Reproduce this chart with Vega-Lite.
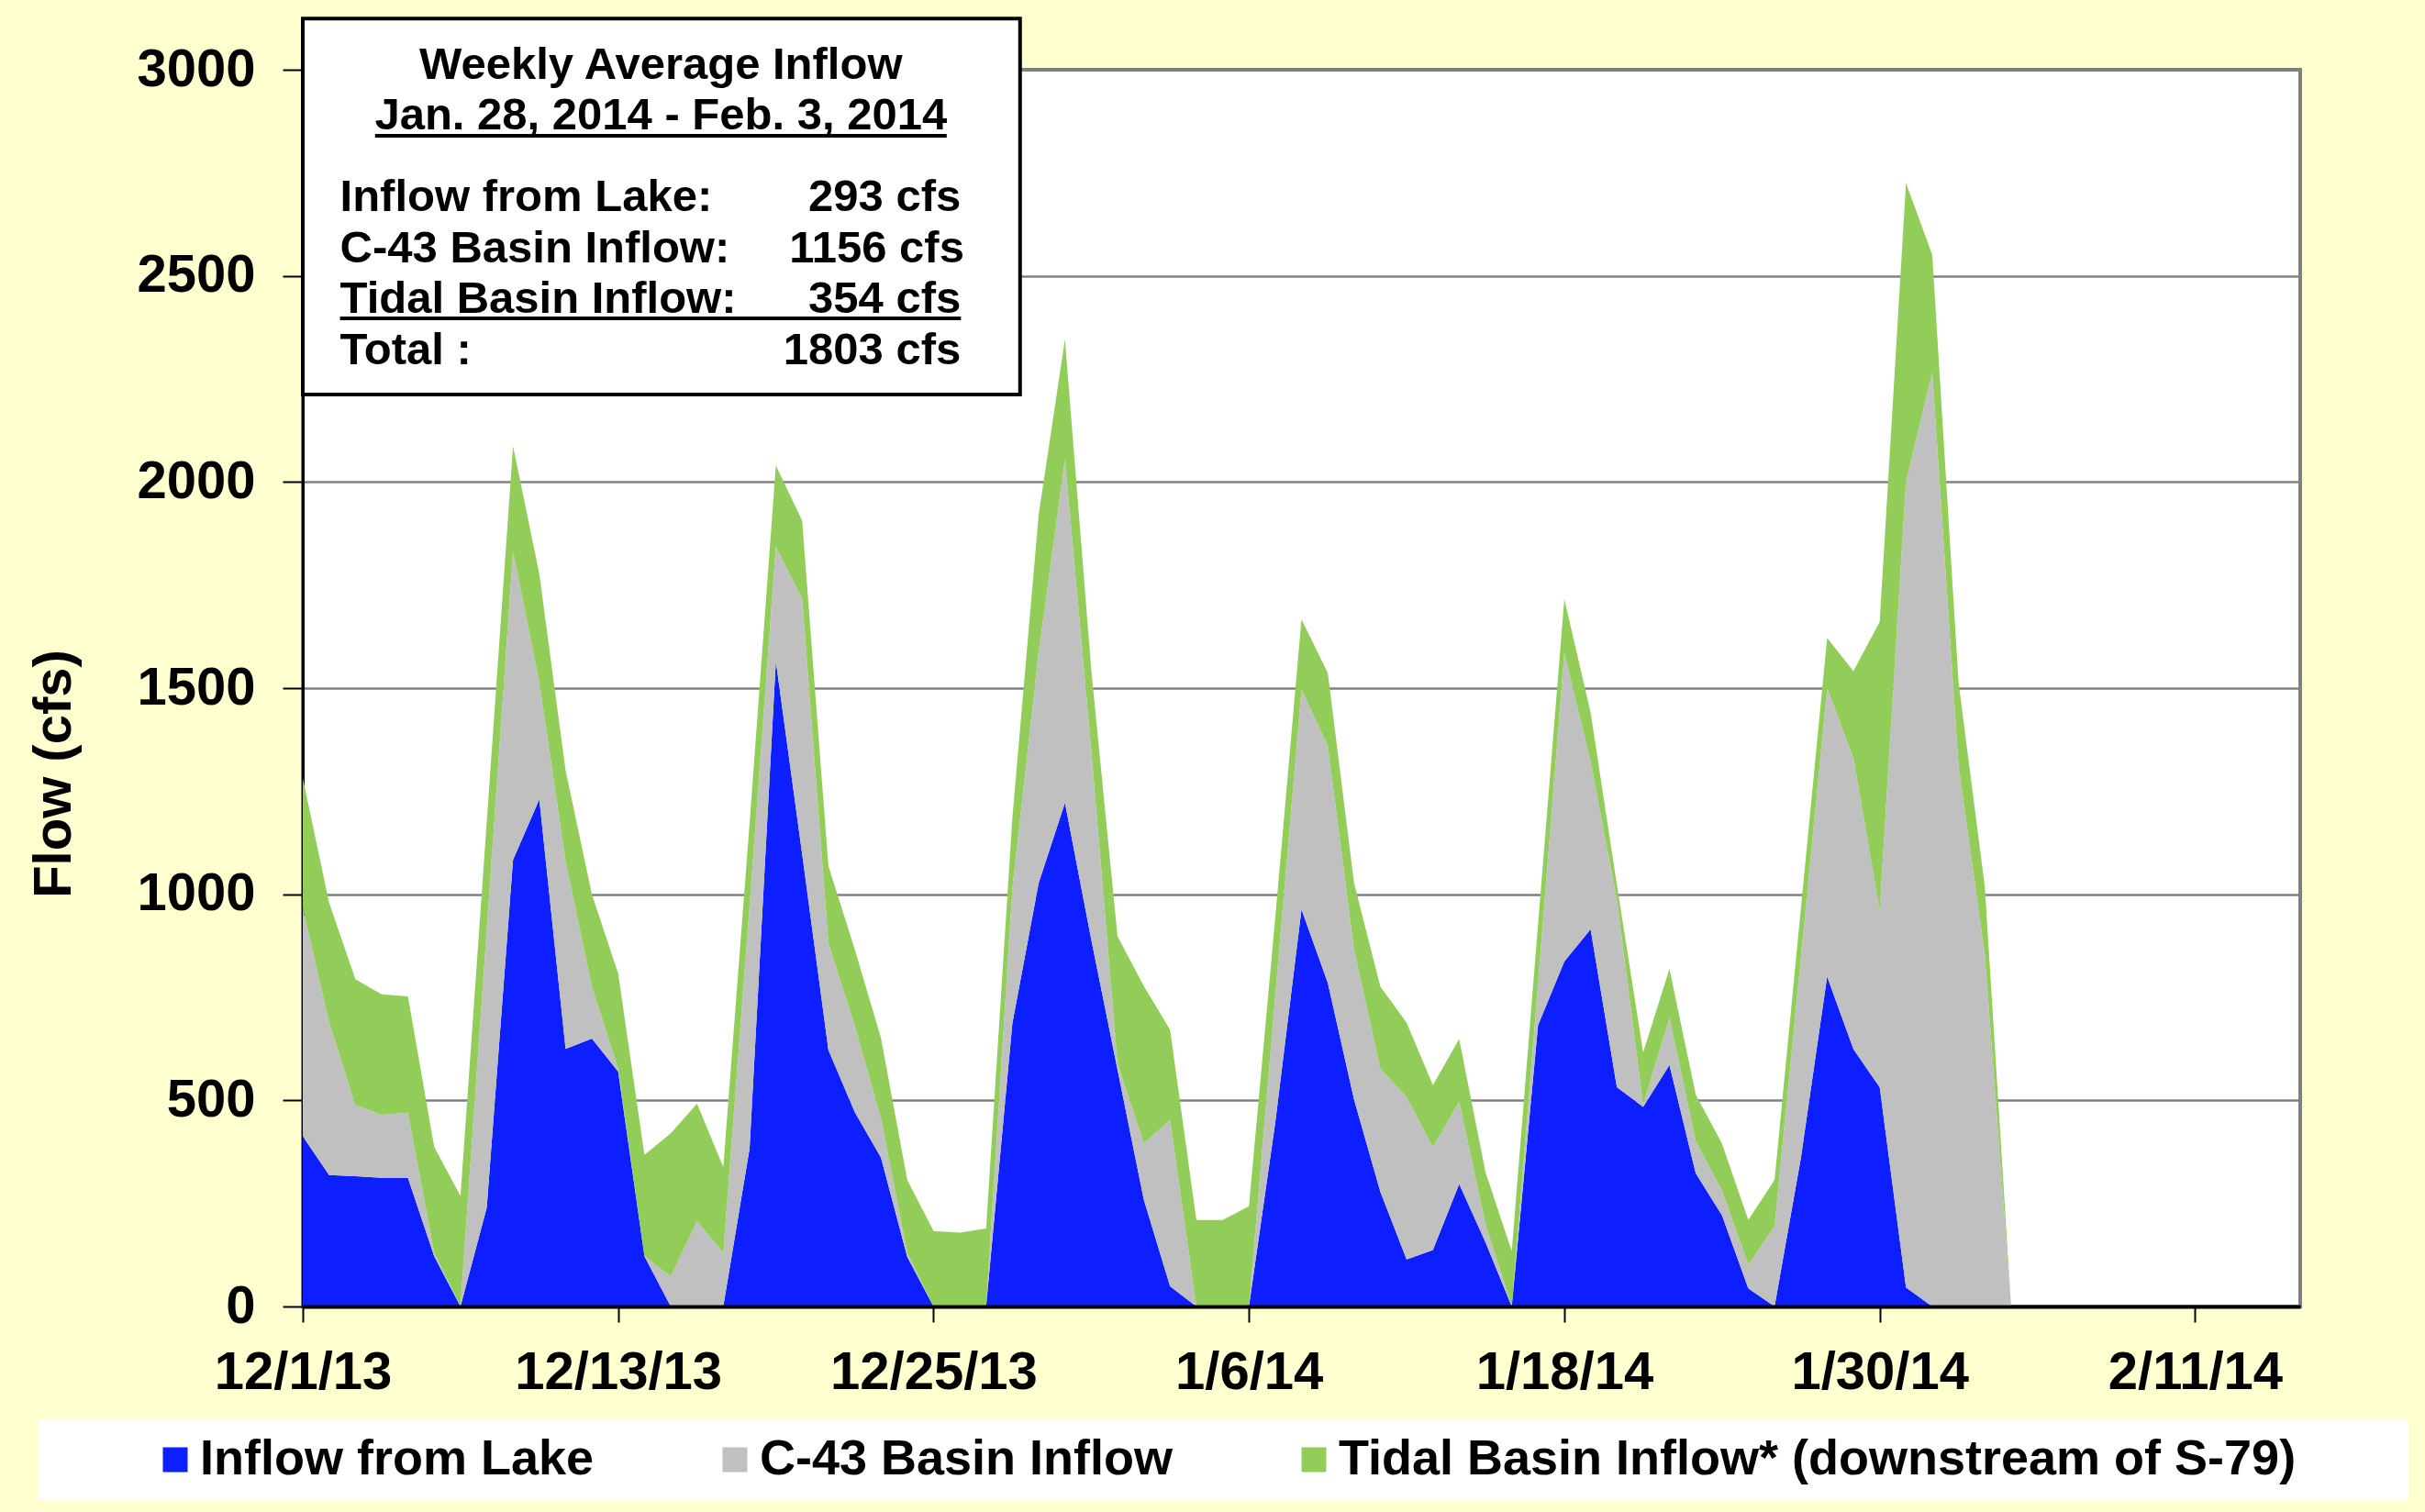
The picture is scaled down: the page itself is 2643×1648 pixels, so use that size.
{
  "$schema": "https://vega.github.io/schema/vega-lite/v6.json",
  "width": 2177,
  "height": 1348,
  "autosize": {"type": "none"},
  "padding": {"left": 330, "top": 76, "right": 136, "bottom": 224},
  "background": "#FFFFCF",
  "config": {
    "view": {"fill": "white", "stroke": "#808080", "strokeWidth": 4},
    "axis": {
      "labelFont": "Liberation Sans", "labelFontWeight": "bold", "labelFontSize": 58, "labelColor": "black", "labelLimit": 0,
      "titleFont": "Liberation Sans", "titleFontWeight": "bold", "titleFontSize": 58, "titleColor": "black",
      "domainColor": "black", "tickColor": "black", "tickWidth": 2
    },
    "text": {"font": "Liberation Sans", "fontWeight": "bold", "fontSize": 49, "baseline": "middle", "color": "black"}
  },
  "layer": [
    {
      "data": {"values": [
        {"date": "2013-12-01", "s1": 413, "s2": 553, "s3": 316},
        {"date": "2013-12-02", "s1": 319, "s2": 371, "s3": 290},
        {"date": "2013-12-03", "s1": 316, "s2": 172, "s3": 306},
        {"date": "2013-12-04", "s1": 312, "s2": 153, "s3": 292},
        {"date": "2013-12-05", "s1": 312, "s2": 158, "s3": 282},
        {"date": "2013-12-06", "s1": 122, "s2": 8, "s3": 257},
        {"date": "2013-12-07", "s1": 0, "s2": 0, "s3": 268},
        {"date": "2013-12-08", "s1": 240, "s2": 675, "s3": 260},
        {"date": "2013-12-09", "s1": 1083, "s2": 748, "s3": 256},
        {"date": "2013-12-10", "s1": 1230, "s2": 285, "s3": 262},
        {"date": "2013-12-11", "s1": 625, "s2": 455, "s3": 220},
        {"date": "2013-12-12", "s1": 650, "s2": 125, "s3": 225},
        {"date": "2013-12-13", "s1": 570, "s2": 7, "s3": 231},
        {"date": "2013-12-14", "s1": 122, "s2": 0, "s3": 246},
        {"date": "2013-12-15", "s1": 0, "s2": 73, "s3": 347},
        {"date": "2013-12-16", "s1": 0, "s2": 207, "s3": 285},
        {"date": "2013-12-17", "s1": 0, "s2": 130, "s3": 208},
        {"date": "2013-12-18", "s1": 383, "s2": 589, "s3": 200},
        {"date": "2013-12-19", "s1": 1565, "s2": 278, "s3": 197},
        {"date": "2013-12-20", "s1": 1098, "s2": 619, "s3": 189},
        {"date": "2013-12-21", "s1": 622, "s2": 260, "s3": 186},
        {"date": "2013-12-22", "s1": 472, "s2": 209, "s3": 186},
        {"date": "2013-12-23", "s1": 361, "s2": 96, "s3": 194},
        {"date": "2013-12-24", "s1": 120, "s2": 10, "s3": 177},
        {"date": "2013-12-25", "s1": 0, "s2": 0, "s3": 183},
        {"date": "2013-12-26", "s1": 0, "s2": 0, "s3": 179},
        {"date": "2013-12-27", "s1": 0, "s2": 0, "s3": 189},
        {"date": "2013-12-28", "s1": 687, "s2": 327, "s3": 173},
        {"date": "2013-12-29", "s1": 1027, "s2": 560, "s3": 334},
        {"date": "2013-12-30", "s1": 1222, "s2": 833, "s3": 291},
        {"date": "2013-12-31", "s1": 890, "s2": 460, "s3": 195},
        {"date": "2014-01-01", "s1": 574, "s2": 16, "s3": 308},
        {"date": "2014-01-02", "s1": 259, "s2": 137, "s3": 381},
        {"date": "2014-01-03", "s1": 49, "s2": 404, "s3": 218},
        {"date": "2014-01-04", "s1": 0, "s2": 0, "s3": 210},
        {"date": "2014-01-05", "s1": 0, "s2": 0, "s3": 210},
        {"date": "2014-01-06", "s1": 0, "s2": 0, "s3": 243},
        {"date": "2014-01-07", "s1": 445, "s2": 307, "s3": 190},
        {"date": "2014-01-08", "s1": 963, "s2": 534, "s3": 170},
        {"date": "2014-01-09", "s1": 785, "s2": 574, "s3": 178},
        {"date": "2014-01-10", "s1": 502, "s2": 364, "s3": 161},
        {"date": "2014-01-11", "s1": 278, "s2": 299, "s3": 199},
        {"date": "2014-01-12", "s1": 114, "s2": 394, "s3": 180},
        {"date": "2014-01-13", "s1": 137, "s2": 249, "s3": 151},
        {"date": "2014-01-14", "s1": 297, "s2": 200, "s3": 152},
        {"date": "2014-01-15", "s1": 156, "s2": 44, "s3": 126},
        {"date": "2014-01-16", "s1": 0, "s2": 0, "s3": 134},
        {"date": "2014-01-17", "s1": 682, "s2": 101, "s3": 144},
        {"date": "2014-01-18", "s1": 837, "s2": 748, "s3": 131},
        {"date": "2014-01-19", "s1": 915, "s2": 407, "s3": 119},
        {"date": "2014-01-20", "s1": 532, "s2": 455, "s3": 36},
        {"date": "2014-01-21", "s1": 484, "s2": 6, "s3": 126},
        {"date": "2014-01-22", "s1": 586, "s2": 114, "s3": 119},
        {"date": "2014-01-23", "s1": 323, "s2": 78, "s3": 113},
        {"date": "2014-01-24", "s1": 221, "s2": 60, "s3": 114},
        {"date": "2014-01-25", "s1": 44, "s2": 57, "s3": 109},
        {"date": "2014-01-26", "s1": 0, "s2": 195, "s3": 112},
        {"date": "2014-01-27", "s1": 360, "s2": 485, "s3": 120},
        {"date": "2014-01-28", "s1": 800, "s2": 700, "s3": 122},
        {"date": "2014-01-29", "s1": 624, "s2": 706, "s3": 211},
        {"date": "2014-01-30", "s1": 532, "s2": 431, "s3": 698},
        {"date": "2014-01-31", "s1": 46, "s2": 1954, "s3": 725},
        {"date": "2014-02-01", "s1": 0, "s2": 2266, "s3": 285},
        {"date": "2014-02-02", "s1": 0, "s2": 1312, "s3": 202},
        {"date": "2014-02-03", "s1": 0, "s2": 853, "s3": 165},
        {"date": "2014-02-04", "s1": 0, "s2": 0, "s3": 0}
      ]},
      "transform": [{"fold": ["s1", "s2", "s3"], "as": ["series", "flow"]}],
      "mark": {"type": "area", "interpolate": "linear"},
      "encoding": {
        "x": {
          "field": "date", "type": "temporal",
          "scale": {"type": "utc", "domain": [{"year": 2013, "month": 12, "date": 1, "utc": true}, {"year": 2014, "month": 2, "date": 15, "utc": true}]},
          "axis": {
            "title": null, "grid": false, "zindex": 1,
            "values": [
              {"year": 2013, "month": 12, "date": 1, "utc": true},
              {"year": 2013, "month": 12, "date": 13, "utc": true},
              {"year": 2013, "month": 12, "date": 25, "utc": true},
              {"year": 2014, "month": 1, "date": 6, "utc": true},
              {"year": 2014, "month": 1, "date": 18, "utc": true},
              {"year": 2014, "month": 1, "date": 30, "utc": true},
              {"year": 2014, "month": 2, "date": 11, "utc": true}
            ],
            "format": "%-m/%-d/%y", "labelFlush": false, "labelOverlap": false,
            "tickSize": 17, "labelPadding": 26, "domainWidth": 4
          }
        },
        "y": {
          "field": "flow", "type": "quantitative", "stack": "zero",
          "scale": {"domain": [0, 3000], "nice": false},
          "axis": {
            "title": "Flow (cfs)", "titleX": -271, "titleY": 767, "titleAngle": -90,
            "titleAlign": "center", "titleBaseline": "middle",
            "values": [0, 500, 1000, 1500, 2000, 2500, 3000], "format": "d",
            "grid": true, "gridColor": "#808080", "gridWidth": 2.5,
            "tickSize": 22, "labelPadding": 30, "domainWidth": 3
          }
        },
        "order": {"field": "series", "sort": "ascending"},
        "color": {
          "field": "series", "type": "nominal",
          "scale": {"domain": ["s1", "s2", "s3"], "range": ["#0D1EFF", "#C0C0C0", "#92CD5A"]},
          "legend": {
            "title": null, "orient": "none", "direction": "horizontal",
            "legendX": -288, "legendY": 1471,
            "fillColor": "white", "padding": 17,
            "symbolType": "square", "symbolSize": 729, "symbolStrokeWidth": 0, "symbolOffset": 105,
            "labelFont": "Liberation Sans", "labelFontWeight": "bold", "labelFontSize": 54, "labelColor": "black",
            "labelOffset": 0, "columnPadding": 21, "labelLimit": 0,
            "labelExpr": "datum.value == 's1' ? 'Inflow from Lake' : datum.value == 's2' ? 'C-43 Basin Inflow' : 'Tidal Basin Inflow* (downstream of S-79)\u00a0\u00a0\u00a0\u00a0\u00a0\u00a0\u00a0\u200b'"
          }
        }
      }
    },
    {
      "data": {"values": [{}]},
      "mark": {"type": "rect", "fill": "white", "stroke": "black", "strokeWidth": 4},
      "encoding": {
        "x": {"datum": {"year": 2013, "month": 12, "date": 1, "utc": true}, "type": "temporal"},
        "x2": {"datum": {"year": 2013, "month": 12, "date": 28, "hours": 7, "utc": true}},
        "y": {"datum": 3124, "type": "quantitative"},
        "y2": {"datum": 2212}
      }
    },
    {
      "data": {"values": [{}]},
      "mark": {"type": "rule", "stroke": "black", "strokeWidth": 4},
      "encoding": {
        "x": {"datum": {"year": 2013, "month": 12, "date": 3, "hours": 18, "utc": true}, "type": "temporal"},
        "x2": {"datum": {"year": 2013, "month": 12, "date": 25, "hours": 12, "utc": true}},
        "y": {"datum": 2840, "type": "quantitative"}
      }
    },
    {
      "data": {"values": [{}]},
      "mark": {"type": "rule", "stroke": "black", "strokeWidth": 4},
      "encoding": {
        "x": {"datum": {"year": 2013, "month": 12, "date": 2, "hours": 10, "utc": true}, "type": "temporal"},
        "x2": {"datum": {"year": 2013, "month": 12, "date": 26, "hours": 1, "utc": true}},
        "y": {"datum": 2397, "type": "quantitative"}
      }
    },
    {
      "data": {"values": [{}]},
      "mark": {"type": "text", "text": "Weekly Average Inflow", "align": "center"},
      "encoding": {
        "x": {"datum": {"year": 2013, "month": 12, "date": 14, "hours": 15, "utc": true}, "type": "temporal"},
        "y": {"datum": 3012, "type": "quantitative"}
      }
    },
    {
      "data": {"values": [{}]},
      "mark": {"type": "text", "text": "Jan. 28, 2014 - Feb. 3, 2014", "align": "center"},
      "encoding": {
        "x": {"datum": {"year": 2013, "month": 12, "date": 14, "hours": 15, "utc": true}, "type": "temporal"},
        "y": {"datum": 2888, "type": "quantitative"}
      }
    },
    {
      "data": {"values": [{}]},
      "mark": {"type": "text", "text": "Inflow from Lake:", "align": "left"},
      "encoding": {
        "x": {"datum": {"year": 2013, "month": 12, "date": 2, "hours": 10, "utc": true}, "type": "temporal"},
        "y": {"datum": 2690, "type": "quantitative"}
      }
    },
    {
      "data": {"values": [{}]},
      "mark": {"type": "text", "text": "C-43 Basin Inflow:", "align": "left"},
      "encoding": {
        "x": {"datum": {"year": 2013, "month": 12, "date": 2, "hours": 10, "utc": true}, "type": "temporal"},
        "y": {"datum": 2565, "type": "quantitative"}
      }
    },
    {
      "data": {"values": [{}]},
      "mark": {"type": "text", "text": "Tidal Basin Inflow:", "align": "left"},
      "encoding": {
        "x": {"datum": {"year": 2013, "month": 12, "date": 2, "hours": 10, "utc": true}, "type": "temporal"},
        "y": {"datum": 2443, "type": "quantitative"}
      }
    },
    {
      "data": {"values": [{}]},
      "mark": {"type": "text", "text": "Total :", "align": "left"},
      "encoding": {
        "x": {"datum": {"year": 2013, "month": 12, "date": 2, "hours": 10, "utc": true}, "type": "temporal"},
        "y": {"datum": 2318, "type": "quantitative"}
      }
    },
    {
      "data": {"values": [{}]},
      "mark": {"type": "text", "text": "293 cfs", "align": "right"},
      "encoding": {
        "x": {"datum": {"year": 2013, "month": 12, "date": 26, "hours": 1, "utc": true}, "type": "temporal"},
        "y": {"datum": 2690, "type": "quantitative"}
      }
    },
    {
      "data": {"values": [{}]},
      "mark": {"type": "text", "text": "1156 cfs", "align": "right"},
      "encoding": {
        "x": {"datum": {"year": 2013, "month": 12, "date": 26, "hours": 4, "utc": true}, "type": "temporal"},
        "y": {"datum": 2565, "type": "quantitative"}
      }
    },
    {
      "data": {"values": [{}]},
      "mark": {"type": "text", "text": "354 cfs", "align": "right"},
      "encoding": {
        "x": {"datum": {"year": 2013, "month": 12, "date": 26, "hours": 1, "utc": true}, "type": "temporal"},
        "y": {"datum": 2443, "type": "quantitative"}
      }
    },
    {
      "data": {"values": [{}]},
      "mark": {"type": "text", "text": "1803 cfs", "align": "right"},
      "encoding": {
        "x": {"datum": {"year": 2013, "month": 12, "date": 26, "hours": 1, "utc": true}, "type": "temporal"},
        "y": {"datum": 2318, "type": "quantitative"}
      }
    }
  ]
}
